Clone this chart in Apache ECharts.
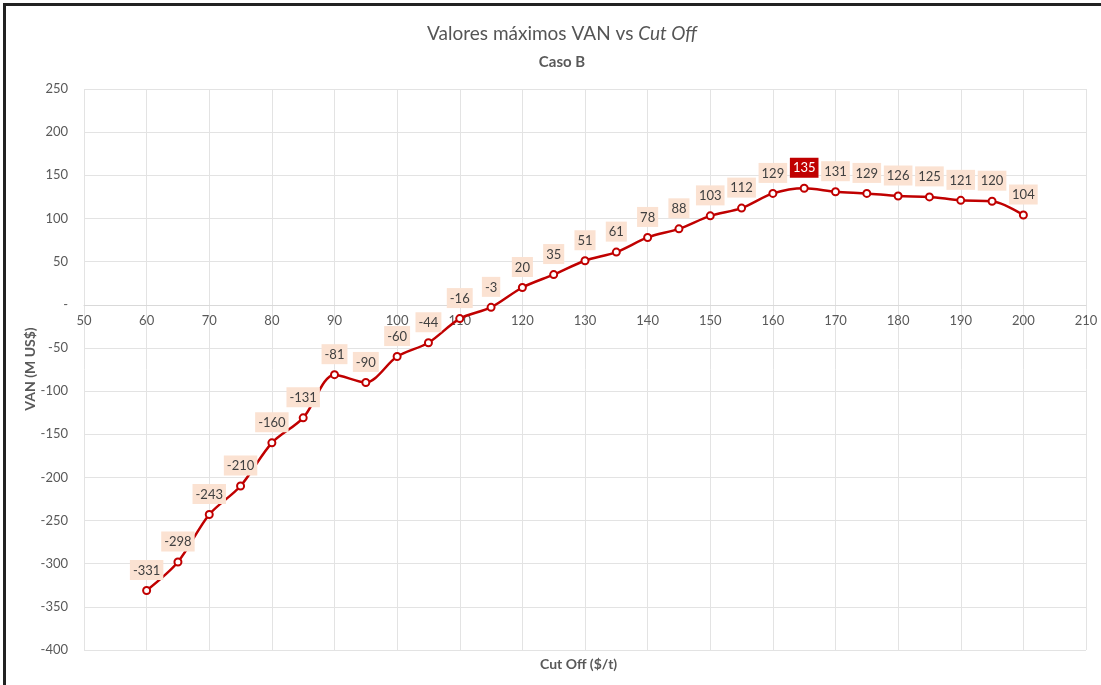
<!DOCTYPE html>
<html>
<head>
<meta charset="utf-8">
<script src="https://cdn.jsdelivr.net/npm/echarts@6/dist/echarts.min.js"></script>
<style>
html,body{margin:0;padding:0;background:#fff;}
#chart{width:1101px;height:685px;}
#frame{position:absolute;left:3px;top:3px;width:1200px;height:800px;border-left:3px solid #222;border-top:3px solid #222;pointer-events:none;}
</style>
</head>
<body>
<div id="chart"></div>
<div id="frame"></div>
<script>
const cutOff = [60,65,70,75,80,85,90,95,100,105,110,115,120,125,130,135,140,145,150,155,160,165,170,175,180,185,190,195,200];
const van = [-331,-298,-243,-210,-160,-131,-81,-90,-60,-44,-16,-3,20,35,51,61,78,88,103,112,129,135,131,129,126,125,121,120,104];
const maxIndex = 21;
const titleText = 'Valores máximos VAN vs ';
const titleItalic = 'Cut Off';
const subtitleText = 'Caso B';
const xTitle = 'Cut Off ($/t)';
const yTitle = 'VAN (M US$)';

const FONT = 'Lato, "Open Sans", sans-serif';
const chart = echarts.init(document.getElementById('chart'));
const data = cutOff.map((x, i) => {
  const item = { value: [x, van[i]] };
  if (i === maxIndex) {
    item.label = { backgroundColor: '#c00000', color: '#ffffff' };
  }
  return item;
});
const option = {
  animation: false,
  backgroundColor: '#ffffff',
  title: [{
    text: titleText + '{i|' + titleItalic + '}',
    left: 557, top: 19, textAlign: 'center',
    textStyle: { fontFamily: FONT, fontSize: 19, fontWeight: 'normal', color: '#555555',
      rich: { i: { fontFamily: FONT, fontSize: 19, fontStyle: 'italic', color: '#555555' } } }
  }, {
    text: subtitleText,
    left: 557, top: 50, textAlign: 'center',
    textStyle: { fontFamily: FONT, fontSize: 15, fontWeight: 'bold', color: '#595959' }
  }],
  graphic: [{
    type: 'text', left: 540, top: 657,
    style: { text: xTitle, fontFamily: FONT, fontSize: 14, fontWeight: 'bold', fill: '#595959' }
  }, {
    type: 'text', x: 30, y: 369, rotation: Math.PI / 2,
    style: { text: yTitle, fontFamily: FONT, fontSize: 14, fontWeight: 'bold', fill: '#595959',
      align: 'center', verticalAlign: 'middle' }
  }],
  grid: { left: 84, right: 15, top: 89, bottom: 35, containLabel: false, outerBoundsMode: 'none' },
  xAxis: {
    type: 'value', min: 50, max: 210, interval: 10,
    axisLine: { onZero: false, lineStyle: { color: '#d9d9d9' } },
    axisTick: { show: false },
    axisLabel: { fontFamily: FONT, fontSize: 13, color: '#595959', margin: 10 },
    splitLine: { show: true, lineStyle: { color: '#e3e3e3' } }
  },
  yAxis: {
    type: 'value', min: -400, max: 250, interval: 50,
    axisLine: { show: false },
    axisTick: { show: false },
    axisLabel: { fontFamily: FONT, fontSize: 13, color: '#595959', margin: 16,
      formatter: v => v === 0 ? '-' : String(v) },
    splitLine: { show: true, lineStyle: { color: '#e3e3e3' } }
  },
  series: [{
    type: 'line',
    data: data,
    smooth: 0.3,
    symbol: 'circle', symbolSize: 7,
    lineStyle: { color: '#c00000', width: 2.5 },
    itemStyle: { color: '#ffffff', borderColor: '#c00000', borderWidth: 2 },
    label: {
      show: true, position: 'top', distance: 6,
      formatter: p => String(p.value[1]),
      fontFamily: FONT, fontSize: 13, color: '#404040',
      backgroundColor: '#fbe2d2', padding: [4, 3, 3, 3]
    },
    z: 3
  }]
};
chart.setOption(option);
// move the x axis (line + labels) up to the y = 0 line using the library's own scale
const zeroPx = chart.convertToPixel({ yAxisIndex: 0 }, 0);
const bottomPx = chart.convertToPixel({ yAxisIndex: 0 }, -400);
chart.setOption({ xAxis: { offset: -(bottomPx - zeroPx) } });
</script>
</body>
</html>
